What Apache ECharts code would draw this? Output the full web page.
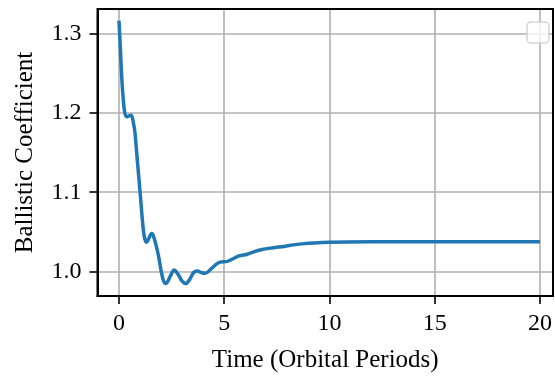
<!DOCTYPE html>
<html>
<head>
<meta charset="utf-8">
<script src="https://cdn.jsdelivr.net/npm/echarts@6/dist/echarts.min.js"></script>
<style>
  html, body { margin: 0; padding: 0; background: #fff; }
  #chart { width: 555px; height: 380px; }
</style>
</head>
<body>
<div id="chart"></div>
<script>
// Ballistic coefficient history over the first 20 orbital periods
const timePeriods = [
  0, 0.06, 0.13, 0.2, 0.27, 0.36, 0.47, 0.58, 0.68, 0.76, 0.84, 1.0, 1.16, 1.24,
  1.31, 1.42, 1.55, 1.65, 1.87, 2.05, 2.2, 2.3, 2.45, 2.62, 2.8, 3.0, 3.18, 3.35,
  3.55, 3.72, 3.9, 4.1, 4.35, 4.6, 4.8, 5.15, 5.4, 5.7, 6.1, 6.4, 6.8, 7.6, 8.7,
  10, 12, 15, 20
];
const ballisticCoeff = [
  1.316, 1.285, 1.245, 1.218, 1.201, 1.195, 1.196, 1.197, 1.188, 1.175, 1.150, 1.101, 1.052, 1.040,
  1.037, 1.042, 1.048, 1.044, 1.021, 0.995, 0.985, 0.987, 0.995, 1.002, 0.997, 0.988, 0.985, 0.990,
  0.999, 1.001, 0.999, 0.998, 1.003, 1.009, 1.012, 1.013, 1.016, 1.020, 1.022, 1.025, 1.028, 1.031, 1.035,
  1.037, 1.0377, 1.0378, 1.0378
];
const xTicks = [0, 5, 10, 15, 20];
const yTicks = [1.0, 1.1, 1.2, 1.3];

const FONT = 'Liberation Serif';
const chart = echarts.init(document.getElementById('chart'), null, { renderer: 'canvas' });

const seriesData = timePeriods.map((t, i) => [t, ballisticCoeff[i]]);

chart.setOption({
  animation: false,
  backgroundColor: '#ffffff',
  grid: { left: 97.5, right: 2, top: 9, bottom: 84, containLabel: false },
  xAxis: {
    type: 'value',
    min: -1.02,
    max: 20.62,
    name: 'Time (Orbital Periods)',
    nameLocation: 'middle',
    nameGap: 52,
    nameTextStyle: { fontFamily: FONT, fontSize: 25, color: '#000' },
    axisLine: { show: true, onZero: false, lineStyle: { color: '#000', width: 2 } },
    axisTick: { show: true, inside: false, length: 8, customValues: xTicks, lineStyle: { color: '#000', width: 1.6 } },
    axisLabel: { customValues: xTicks, margin: 16, fontFamily: FONT, fontSize: 24, color: '#000',
      formatter: v => String(v) },
    splitLine: { show: true, lineStyle: { color: '#b0b0b0', width: 1.6 } }
  },
  yAxis: {
    type: 'value',
    min: 0.9694,
    max: 1.3306,
    name: 'Ballistic Coefficient',
    nameLocation: 'middle',
    nameGap: 60,
    nameRotate: 90,
    nameTextStyle: { fontFamily: FONT, fontSize: 25, color: '#000' },
    axisLine: { show: true, onZero: false, lineStyle: { color: '#000', width: 2 } },
    axisTick: { show: true, inside: false, length: 8, customValues: yTicks, lineStyle: { color: '#000', width: 1.6 } },
    axisLabel: { customValues: yTicks, margin: 16, fontFamily: FONT, fontSize: 24, color: '#000',
      formatter: v => v.toFixed(1) },
    splitLine: { show: true, lineStyle: { color: '#b0b0b0', width: 1.6 } }
  },
  graphic: [
    {
      // full frame round the plot area (top and right edges included)
      type: 'rect',
      shape: { x: 97.5, y: 9, width: 455.5, height: 287 },
      style: { fill: 'none', stroke: '#000', lineWidth: 2 },
      silent: true,
      z: 100
    },
    {
      // empty legend frame
      type: 'rect',
      shape: { x: 527, y: 22, width: 22, height: 21, r: 4 },
      style: { fill: 'rgba(255,255,255,0.8)', stroke: 'rgba(204,204,204,0.8)', lineWidth: 1.6 },
      silent: true,
      z: 101
    }
  ],
  series: [{
    type: 'line',
    data: seriesData,
    smooth: 0.35,
    showSymbol: false,
    clip: true,
    lineStyle: { color: '#1f77b4', width: 3.5 },
    itemStyle: { color: '#1f77b4' }
  }]
});
</script>
</body>
</html>
